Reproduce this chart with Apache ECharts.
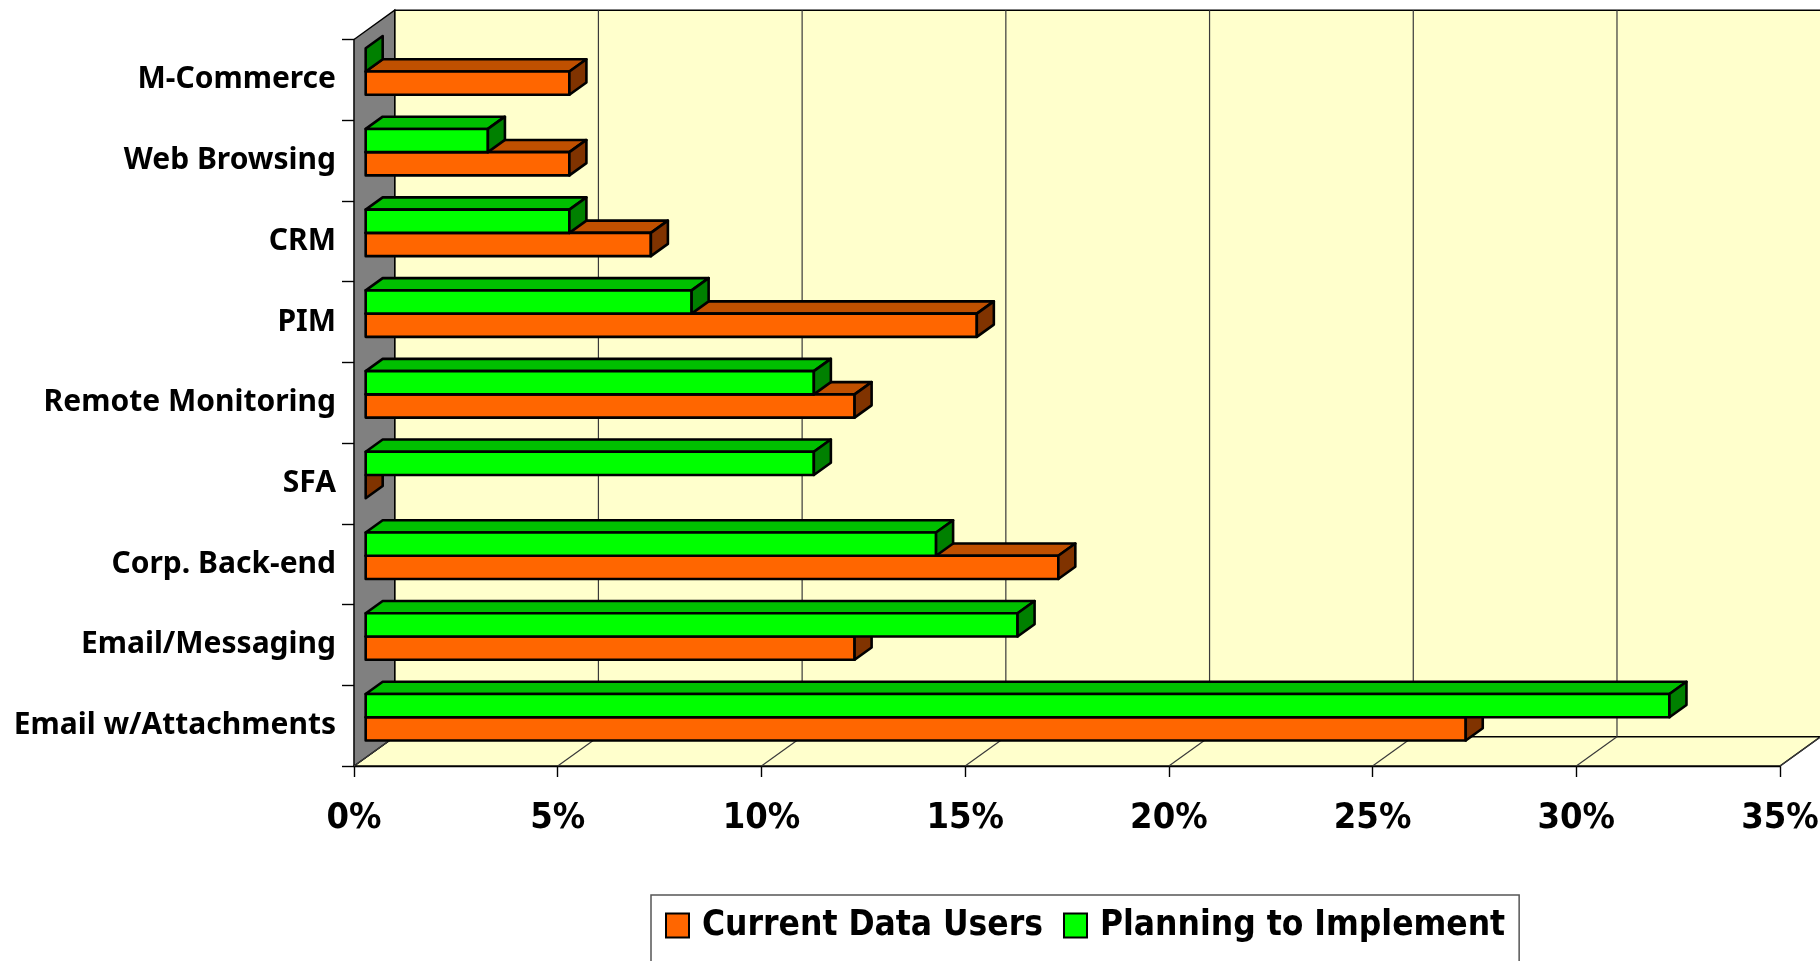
<!DOCTYPE html>
<html>
<head>
<meta charset="utf-8">
<script src="https://cdn.jsdelivr.net/npm/echarts@6/dist/echarts.min.js"></script>
<style>
  html, body { margin: 0; padding: 0; background: #ffffff; }
  #chart { width: 1820px; height: 961px; }
</style>
</head>
<body>
<div id="chart"></div>
<script>
// Categories, bottom to top
const categories = [
  'Email w/Attachments', 'Email/Messaging', 'Corp. Back-end', 'SFA',
  'Remote Monitoring', 'PIM', 'CRM', 'Web Browsing', 'M-Commerce'
];
// Percent of respondents
const currentDataUsers    = [27, 12, 17, 0, 12, 15, 7, 5, 5];
const planningToImplement = [32, 16, 14, 11, 11, 8, 5, 3, 0];
const xTicks = [0, 5, 10, 15, 20, 25, 30, 35];
const seriesNames = ['Current Data Users', 'Planning to Implement'];

// Pseudo-3D projection: offset from front plane to back wall (px)
const DEPTH = [40.7, -29.3];
const BAR_FRONT = 0.287;   // fraction of depth where bar front faces sit
const BAR_BACK = 0.705;    // fraction of depth where bar back faces sit
const BAR_FRAC = 0.288;    // bar thickness as fraction of category band

const FACE = [
  { front: '#FF6600', top: '#C05000', side: '#803300' },
  { front: '#00FF00', top: '#00C000', side: '#008000' }
];

const NARROW = '"Liberation Sans Narrow", "DejaVu Sans Condensed", "Arial Narrow", sans-serif';

function poly(points, fill, z2) {
  return {
    type: 'polygon',
    z2: z2 || 0,
    shape: { points: points },
    style: { fill: fill, stroke: '#000', lineWidth: 2.6, lineJoin: 'round' }
  };
}

function renderBar(slot) {
  return function (params, api) {
    const v = api.value(0);
    const ci = api.value(1);
    const p0 = api.coord([0, ci]);
    const p1 = api.coord([v, ci]);
    const band = api.size([0, 1])[1];
    const t = band * BAR_FRAC;
    const ox = DEPTH[0] * BAR_FRONT, oy = DEPTH[1] * BAR_FRONT;
    const bx = DEPTH[0] * (BAR_BACK - BAR_FRONT), by = DEPTH[1] * (BAR_BACK - BAR_FRONT);
    const x0 = p0[0] + ox, x1 = p1[0] + ox;
    const yTop = slot === 0 ? p0[1] + oy : p0[1] + oy - t;
    const yBot = yTop + t;
    const c = FACE[slot];
    const children = [];
    if (v > 0) {
      children.push(poly([[x0, yTop], [x1, yTop], [x1 + bx, yTop + by], [x0 + bx, yTop + by]], c.top, 1));
      children.push(poly([[x0, yTop], [x1, yTop], [x1, yBot], [x0, yBot]], c.front, 2));
    }
    children.push(poly([[x1, yTop], [x1, yBot], [x1 + bx, yBot + by], [x1 + bx, yTop + by]], c.side, 3));
    return { type: 'group', children: children };
  };
}

function renderFrame(params, api) {
  const cs = params.coordSys;
  const L = cs.x, T = cs.y, R = cs.x + cs.width, B = cs.y + cs.height;
  const dx = DEPTH[0], dy = DEPTH[1];
  const line = { stroke: '#000', lineWidth: 1.4 };
  const grid = { stroke: '#3a3a3a', lineWidth: 1.2 };
  const children = [];
  // back wall
  children.push({ type: 'rect', shape: { x: L + dx, y: T + dy, width: R - L, height: B - T },
    style: Object.assign({ fill: '#FFFFCC' }, line) });
  // floor
  children.push({ type: 'polygon', shape: { points: [[L, B], [L + dx, B + dy], [R + dx, B + dy], [R, B]] },
    style: Object.assign({ fill: '#FFFFCC' }, line) });
  // side wall
  children.push({ type: 'polygon', shape: { points: [[L, T], [L + dx, T + dy], [L + dx, B + dy], [L, B]] },
    style: Object.assign({ fill: '#808080' }, line) });
  // gridlines on back wall and floor
  xTicks.forEach(function (tk) {
    const x = api.coord([tk, 0])[0];
    if (tk > 0) {
      children.push({ type: 'line', shape: { x1: x + dx, y1: T + dy, x2: x + dx, y2: B + dy }, style: grid });
    }
    children.push({ type: 'line', shape: { x1: x, y1: B, x2: x + dx, y2: B + dy }, style: grid });
  });
  return { type: 'group', children: children };
}

const chart = echarts.init(document.getElementById('chart'), null, { renderer: 'canvas' });

chart.setOption({
  animation: false,
  backgroundColor: '#ffffff',
  grid: { left: 354, right: 40, top: 39.5, bottom: 195, containLabel: false, outerBoundsMode: 'none' },
  xAxis: {
    type: 'value',
    min: 0, max: 35, interval: 5,
    axisLine: { show: true, lineStyle: { color: '#000', width: 1.4 } },
    axisTick: { show: true, length: 11, lineStyle: { color: '#000', width: 1.4 } },
    splitLine: { show: false },
    axisLabel: {
      formatter: '{value}%', margin: 35,
      color: '#000', fontFamily: NARROW, fontWeight: 'bold', fontSize: 36
    }
  },
  yAxis: {
    type: 'category',
    data: categories,
    axisLine: { show: true, lineStyle: { color: '#000', width: 1.4 } },
    axisTick: { show: true, length: 12, lineStyle: { color: '#000', width: 1.4 } },
    splitLine: { show: false },
    axisLabel: {
      margin: 18, color: '#000', fontFamily: '"Noto Sans", sans-serif', fontWeight: 'bold',
      fontSize: 30, padding: [0, 0, 24, 0]
    }
  },
  legend: {
    data: seriesNames,
    left: 651, top: 895,
    orient: 'horizontal',
    icon: 'rect',
    itemWidth: 23, itemHeight: 24, itemGap: 20,
    padding: [13, 14, 40, 14],
    borderColor: '#555', borderWidth: 1.5,
    backgroundColor: '#fff',
    itemStyle: { borderColor: '#000', borderWidth: 2 },
    textStyle: { color: '#000', fontFamily: NARROW, fontWeight: 'bold', fontSize: 35, padding: [0, 0, 0, 8] }
  },
  series: [
    {
      type: 'custom', name: 'frame', silent: true, z: 1,
      renderItem: renderFrame, data: [[0, 0]], clip: false
    },
    {
      type: 'custom', name: seriesNames[0], z: 3, clip: false,
      itemStyle: { color: FACE[0].front },
      renderItem: renderBar(0),
      encode: { x: 0, y: 1 },
      data: currentDataUsers.map(function (v, i) { return [v, i]; })
    },
    {
      type: 'custom', name: seriesNames[1], z: 4, clip: false,
      itemStyle: { color: FACE[1].front },
      renderItem: renderBar(1),
      encode: { x: 0, y: 1 },
      data: planningToImplement.map(function (v, i) { return [v, i]; })
    }
  ]
});
</script>
</body>
</html>
